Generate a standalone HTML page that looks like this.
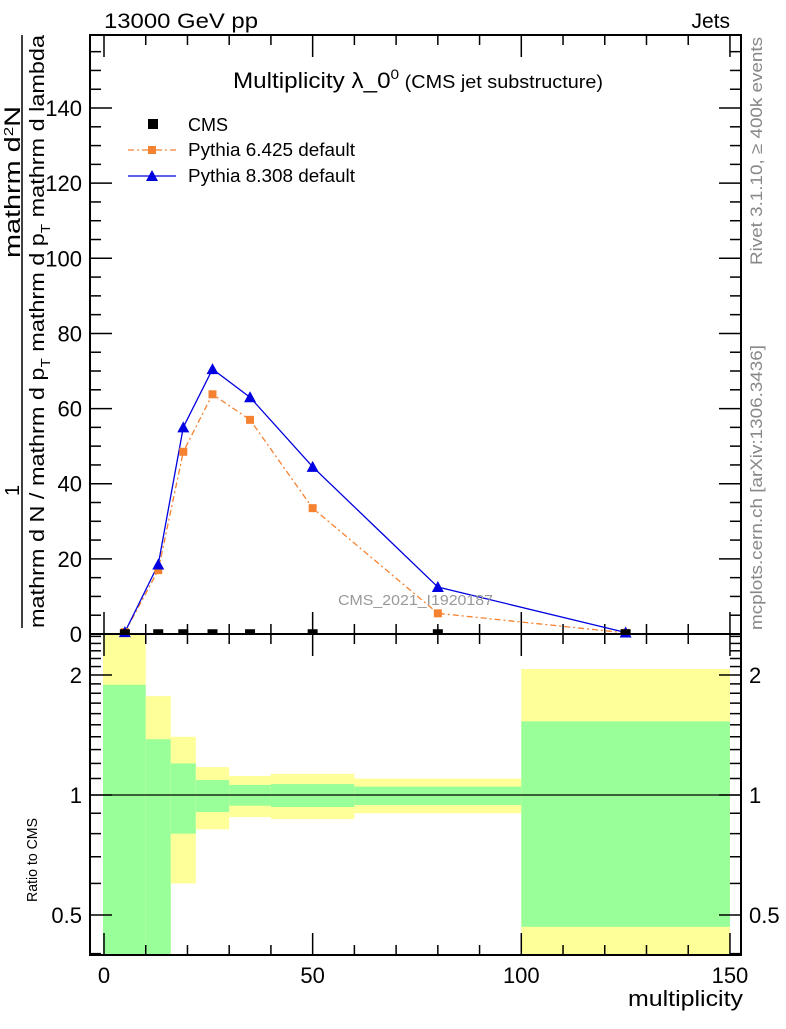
<!DOCTYPE html>
<html><head><meta charset="utf-8"><style>
body{margin:0;background:#fff;}
svg{font-family:"Liberation Sans",sans-serif;}
</style></head><body>
<svg id="chart" width="786" height="1024" xmlns="http://www.w3.org/2000/svg">
<g id="bands"></g>
<g id="ticks"></g>
<g id="series"></g>
<rect x="90" y="35" width="651" height="599" fill="none" stroke="#000" stroke-width="2"/>
<rect x="90" y="634" width="651" height="321" fill="none" stroke="#000" stroke-width="2"/>
<line x1="90" x2="741" y1="795" y2="795" stroke="#000" stroke-width="1.2"/>
<text x="104" y="28" font-size="21" textLength="154" lengthAdjust="spacingAndGlyphs">13000 GeV pp</text>
<text x="730" y="28" font-size="21" text-anchor="end">Jets</text>
<text x="233" y="88" font-size="22" textLength="370" lengthAdjust="spacingAndGlyphs">Multiplicity λ_0<tspan font-size="14" dy="-9">0</tspan><tspan font-size="18" dy="9"> (CMS jet substructure)</tspan></text>
<g>
<rect x="148" y="119" width="10" height="10" fill="#000"/>
<text x="188" y="131" font-size="18">CMS</text>
<line x1="128" x2="176" y1="150" y2="150" stroke="#f58231" stroke-width="1.3" stroke-dasharray="6,3,2,3"/>
<rect x="148" y="146" width="8" height="8" fill="#f58231"/>
<text x="188" y="156" font-size="18" textLength="167" lengthAdjust="spacingAndGlyphs">Pythia 6.425 default</text>
<line x1="128" x2="176" y1="176" y2="176" stroke="#0000e0" stroke-width="1.3"/>
<polygon points="152,170 158,181 146,181" fill="#0000e0"/>
<text x="188" y="182" font-size="18" textLength="167" lengthAdjust="spacingAndGlyphs">Pythia 8.308 default</text>
</g>
<text x="338" y="605" font-size="15" fill="#999" textLength="155" lengthAdjust="spacingAndGlyphs">CMS_2021_I1920187</text>
<text transform="translate(762,265) rotate(-90)" font-size="17" fill="#888" textLength="228" lengthAdjust="spacingAndGlyphs">Rivet 3.1.10, ≥ 400k events</text>
<text transform="translate(762,630) rotate(-90)" font-size="17" fill="#888" textLength="285" lengthAdjust="spacingAndGlyphs">mcplots.cern.ch [arXiv:1306.3436]</text>
<g>
<text transform="translate(20,258) rotate(-90)" font-size="22" textLength="152" lengthAdjust="spacingAndGlyphs">mathrm d<tspan font-size="13" dy="-7">2</tspan><tspan dy="7">N</tspan></text>
<text transform="translate(19,496) rotate(-90)" font-size="20">1</text>
<line x1="22" x2="22" y1="35" y2="628" stroke="#000" stroke-width="1.5"/>
<text transform="translate(44,628) rotate(-90)" font-size="20" textLength="593" lengthAdjust="spacingAndGlyphs">mathrm d N / mathrm d p<tspan font-size="13" dy="6">T</tspan><tspan dy="-6"> mathrm d p</tspan><tspan font-size="13" dy="6">T</tspan><tspan dy="-6"> mathrm d lambda</tspan></text>
</g>
<text transform="translate(37,902) rotate(-90)" font-size="15" textLength="84" lengthAdjust="spacingAndGlyphs">Ratio to CMS</text>
<text x="743" y="1006" font-size="22" text-anchor="end" textLength="115" lengthAdjust="spacingAndGlyphs">multiplicity</text>
</svg>
<script>
const categories=[5,13,19,26,35,50,80,125];
const cmsValues=[0.2,0.2,0.2,0.2,0.2,0.2,0.2,0.2];
const pythia6Values=[0.5,17,48.5,63.8,57,33.5,5.5,0.3];
const pythia8Values=[0.5,18.5,55,70.5,63,44.5,12.5,0.4];
const binEdges=[0,10,16,22,30,40,60,100,150];
const yellowHigh=[3,1.77,1.40,1.175,1.116,1.13,1.10,2.07];
const greenHigh=[1.89,1.38,1.20,1.09,1.06,1.065,1.05,1.53];
const greenLow=[0.3,0.3,0.80,0.906,0.94,0.933,0.944,0.467];
const yellowLow=[0.3,0.3,0.60,0.82,0.88,0.87,0.90,0.3];
const yTicks=[0,20,40,60,80,100,120,140];
const xTicks=[0,50,100,150];
const ratioTicks=[0.5,1,2];

const NS="http://www.w3.org/2000/svg";
const X=v=>104+v*4.173;
const Y=v=>634-v*3.757;
const R=v=>Math.min(955,Math.max(634,795-Math.log2(v)*120));
function mk(tag,attrs,parent){const e=document.createElementNS(NS,tag);for(const k in attrs)e.setAttribute(k,attrs[k]);parent.appendChild(e);return e;}
const bands=document.getElementById('bands'),ticks=document.getElementById('ticks'),series=document.getElementById('series');
for(let i=0;i<binEdges.length-1;i++){
  const x0=X(binEdges[i])-(i==0?1:0),x1=X(binEdges[i+1]);
  let y=mk('rect',{x:x0,y:R(yellowHigh[i]),width:x1-x0,height:R(yellowLow[i])-R(yellowHigh[i]),fill:'#ffff99'},bands);
  
  
  let g=mk('rect',{x:x0,y:R(greenHigh[i]),width:x1-x0,height:R(greenLow[i])-R(greenHigh[i]),fill:'#99ff99'},bands);
  
  
}
const L=(x1,y1,x2,y2)=>mk('line',{x1,y1,x2,y2,stroke:'#000','stroke-width':1.5},ticks);
for(let v=0;v<=150;v+=10){const x=X(v),maj=v%50==0,len=maj?22:10;
  L(x,634,x,634-len);L(x,35,x,35+len);L(x,955,x,955-len);L(x,634,x,634+len);}
xTicks.forEach(v=>{const t=mk('text',{x:X(v),y:983,'font-size':22,'text-anchor':'middle'},ticks);t.textContent=v;
  
  });
for(let v=0;v<=155;v+=5){const y=Y(v),maj=v%20==0,len=maj?22:11;L(90,y,90+len,y);L(741,y,741-len,y);}
yTicks.forEach(v=>{const t=mk('text',{x:82,y:Y(v)+8,'font-size':22,'text-anchor':'end'},ticks);t.textContent=v;
  
  });
const rm=[0.4,0.5,0.6,0.7,0.8,0.9,1,1.1,1.2,1.3,1.4,1.5,1.6,1.7,1.8,1.9,2,2.1,2.2,2.3,2.4,2.5];
rm.forEach(v=>{const y=R(v),maj=ratioTicks.includes(v),len=maj?22:11;if(y<=634||y>=955)return;L(90,y,90+len,y);L(741,y,741-len,y);});
ratioTicks.forEach(v=>{const t=mk('text',{x:82,y:R(v)+8,'font-size':22,'text-anchor':'end'},ticks);t.textContent=v;
  
  
  const t2=mk('text',{x:749,y:R(v)+8,'font-size':22},ticks);t2.textContent=v;
  
  });
const pts=vals=>categories.map((c,i)=>X(c)+','+Y(vals[i])).join(' ');
let p6=mk('polyline',{points:pts(pythia6Values),fill:'none',stroke:'#f58231','stroke-width':1.3,'stroke-dasharray':'6,3,2,3'},series);


let p8=mk('polyline',{points:pts(pythia8Values),fill:'none',stroke:'#0000e0','stroke-width':1.3},series);


categories.forEach((c,i)=>{
  let s=mk('rect',{x:X(c)-4,y:Y(pythia6Values[i])-4,width:8,height:8,fill:'#f58231'},series);
  
  
  const x=X(c),y=Y(pythia8Values[i]);
  let t=mk('polygon',{points:`${x},${y-6} ${x+6},${y+5} ${x-6},${y+5}`,fill:'#0000e0'},series);
  
  
  let m=mk('rect',{x:X(c)-5,y:Y(cmsValues[i])-4,width:10,height:5,fill:'#000'},series);
  
  
});
</script>
</body></html>
